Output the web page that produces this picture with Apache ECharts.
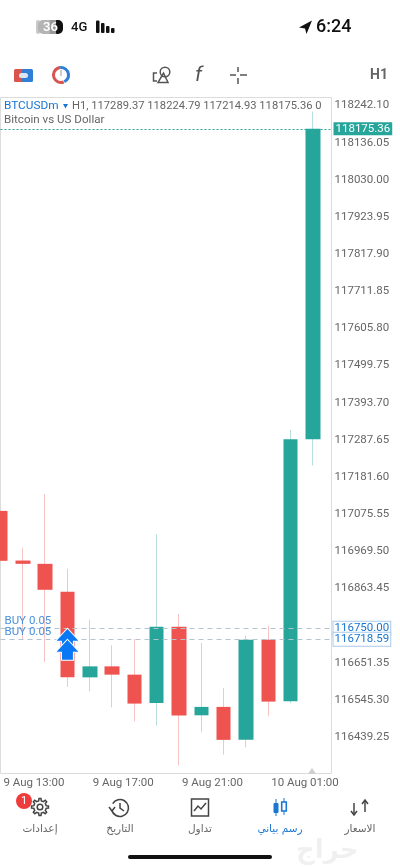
<!DOCTYPE html>
<html><head><meta charset="utf-8">
<script src="https://cdn.jsdelivr.net/npm/echarts@6/dist/echarts.min.js"></script>
<style>html,body{margin:0;padding:0;background:#fff}#c{width:400px;height:867px}</style></head>
<body><div id="c"></div>
<script>
// [bar index, open, close, low, high]
const barIndex = [0,1,2,3,4,5,6,7,8,9,10,11,12,13,14];
const opens  = [117085.1,116943.4,116934.0,116854.2,116610.0,116641.4,116617.7,116537.1,116754.5,116501.7,116525.7,116431.6,116717.5,116541.6,117289.37];
const closes = [116942.6,116934.0,116859.9,116610.0,116641.4,116617.7,116535.1,116754.5,116500.9,116525.7,116431.6,116717.5,116540.8,117289.4,118175.36];
const lows   = [116942.6,116717.5,116653.9,116582.7,116570.1,116524.5,116484.6,116472.4,116358.4,116453.3,116389.7,116410.5,116498.9,116537.1,117214.93];
const highs  = [117085.1,116979.6,117133.5,116919.8,116774.5,116701.2,116719.5,117018.7,116790.7,116708.1,116579.8,116728.9,116757.4,117315.9,118224.79];
const priceTicks = [118242.10,118136.05,118030.00,117923.95,117817.90,117711.85,117605.80,117499.75,117393.70,117287.65,117181.60,117075.55,116969.50,116863.45,116651.35,116545.30,116439.25];
const timeTickBars = [1,5,9,13];
const timeTickLabels = ['9 Aug 13:00','9 Aug 17:00','9 Aug 21:00','10 Aug 01:00'];
const lastPrice = 118175.36;
const buyPrices = [116750.00,116718.59];
const buyBar = 3;
const tabLabels = ['إعدادات','التاريخ','تداول','رسم بياني','الاسعار'];

const UP='#26a69a',DOWN='#ef5350',BLUE='#1976d2',GRAY='#666666',FONT='Roboto';
const wickData = barIndex.map((x,i)=>[x,opens[i],closes[i],lows[i],highs[i]]);
const bodyData = barIndex.map((x,i)=>[x,opens[i],closes[i],Math.min(opens[i],closes[i]),Math.max(opens[i],closes[i])]);

const ARROW='path://M12 0 L24 13 L18 13 L18 21 L6 21 L6 13 L0 13 Z';
const LABEL_SHIFT=0.87;
const labelPositions=timeTickBars.map(b=>b-LABEL_SHIFT);
function txt(t,x,y,size,fill,extra){return {type:'text',silent:true,x:x,y:y,z:20,style:Object.assign({text:t,fill:fill,font:size+'px '+FONT,textVerticalAlign:'middle'},extra||{})};}
function poly(points,style,closed){return {type:closed?'polygon':'polyline',silent:true,z:20,shape:{points:points},style:style};}
function rect(x,y,w,h,fill,r){return {type:'rect',silent:true,z:20,shape:{x:x,y:y,width:w,height:h,r:r||0},style:{fill:fill}};}
function ring(cx,cy,r,stroke,lw){return {type:'circle',silent:true,z:20,shape:{cx:cx,cy:cy,r:r},style:{fill:'none',stroke:stroke,lineWidth:lw}};}
function line(a,b,c,d,stroke,lw){return {type:'line',silent:true,z:20,shape:{x1:a,y1:b,x2:c,y2:d},style:{stroke:stroke,lineWidth:lw}};}
const st=(c,w)=>({fill:'none',stroke:c,lineWidth:w||1.5});
function gear(cx,cy,ro,ri,n){const p=[];for(let i=0;i<n;i++){const a=i*2*Math.PI/n,d=Math.PI/n;[[-.55,ri],[-.3,ro],[.3,ro],[.55,ri]].forEach(([o,r])=>p.push([cx+r*Math.cos(a+o*d),cy+r*Math.sin(a+o*d)]));}return p;}

const chrome=[
 // status bar
 rect(36,20,4,14,'#c9c9c9',2), rect(38,20,18,14,'#b4b4b4',5), rect(52,20,11,14,'#111',5), rect(50,20,6,14,'#9a9a9a',0),
 txt('36',43,27.5,13,'#fff',{font:'600 13px '+FONT}),
 txt('4G',71,27.5,13,'#111',{font:'500 13px '+FONT}),
 rect(96,20.5,3.5,12.5,'#111',1),rect(101,23,3.5,10,'#111',1),rect(106,26,3.5,7,'#111',1),rect(111,28,3.5,5,'#111',1),
 poly([[312,20.5],[299,27.5],[305,28.5],[306.5,34]],{fill:'#111'},true),
 txt('6:24',316,27.5,18,'#111',{font:'500 18px '+FONT}),
 // toolbar
 rect(14,69,11,13,'#d9534f',1.5),rect(22,69,11,13,'#2f7fd6',1.5),rect(19,73,9,5,'#dbe6f2',2.5),
 {type:'arc',silent:true,z:20,shape:{cx:61,cy:75,r:7.5,startAngle:1.2,endAngle:4.6},style:{fill:'none',stroke:'#d9534f',lineWidth:3}},
 {type:'arc',silent:true,z:20,shape:{cx:61,cy:75,r:7.5,startAngle:4.6,endAngle:7.4},style:{fill:'none',stroke:'#2f7fd6',lineWidth:3}},
 line(61,70,61,76,'#999',1),
 ring(165,72,4.8,'#555',1.5), poly([[163.5,73],[168,82.5],[158,82.5]],st('#555'),true), poly([[157,73],[153.5,73],[153.5,81],[157,81]],st('#555')),
 txt('f',195,75.5,21,'#555',{font:'italic 21px '+FONT}),
 line(230,75,236,75,'#555',1.5),line(240,75,247,75,'#555',1.5),line(238,67,238,72,'#555',1.5),line(238,78,238,84,'#555',1.5),
 txt('H1',370,75.5,14,'#666',{font:'700 14px '+FONT}),
 // legend
 txt('BTCUSDm',4,106,11.8,BLUE),
 poly([[63,104],[68,104],[65.5,108.5]],{fill:BLUE},true),
 txt('H1, 117289.37 118224.79 117214.93 118175.36 0',72,106,11.2,GRAY),
 txt('Bitcoin vs US Dollar',4,120,11.6,GRAY),
 // period marker
 poly([[312,768],[316,774],[308,774]],{fill:'#cfcfcf'},true),
 // tab bar
 poly(gear(40,807,8.5,6.3,8),st('#444',1.5),true), ring(40,807,2.8,'#444',1.5),
 {type:'circle',silent:true,z:21,shape:{cx:24,cy:801,r:8},style:{fill:'#ee3b3b'}},
 {type:'text',silent:true,z:22,x:24,y:801,style:{text:'1',fill:'#fff',font:'11px '+FONT,textAlign:'center',textVerticalAlign:'middle'}},
 {type:'arc',silent:true,z:20,shape:{cx:120,cy:808,r:8.5,startAngle:-2.6,endAngle:2.9},style:{fill:'none',stroke:'#444',lineWidth:1.6}},
 poly([[120,803],[120,808],[124,811]],st('#444')), poly([[109,807],[112,811],[115,807]],st('#444')),
 {type:'rect',silent:true,z:20,shape:{x:191.5,y:799,width:17,height:17},style:{fill:'none',stroke:'#444',lineWidth:1.5}},
 poly([[194,811],[198,806],[201,809],[206,803]],st('#444')),
 line(276,799,276,816,BLUE,1),line(284,798,284,815,BLUE,1),rect(273.5,803,5,10,BLUE,1),
 {type:'rect',silent:true,z:20,shape:{x:281.7,y:802,width:4.6,height:9},style:{fill:'#fff',stroke:BLUE,lineWidth:1.6}},
 poly([[354,803],[354,815]],st('#444')), poly([[351,811],[354,815],[357,811]],st('#444')),
 poly([[365,812],[365,800]],st('#444')), poly([[362,804],[365,800],[368,804]],st('#444')),
 ...[40,120,200,280,360].map((x,i)=>txt(tabLabels[i],x,829,10.5,i===3?BLUE:GRAY,{textAlign:'center',font:'10.5px "DejaVu Sans"'})),
 rect(128,855,144,4,'#111',2),
 txt('حراج',296,851,26,'#f0f0f0',{font:'700 26px "DejaVu Sans"'})
];

const chart=echarts.init(document.getElementById('c'),null,{renderer:'canvas'});
chart.setOption({
 animation:false,backgroundColor:'#fff',
 textStyle:{fontFamily:FONT},
 grid:{show:true,left:0.5,top:97.5,width:331,height:676,borderColor:'#dcdcdc',borderWidth:1,backgroundColor:'#fff',containLabel:false},
 xAxis:{type:'value',position:'bottom',min:0,max:14.83,
  axisLine:{show:false},axisTick:{show:false},splitLine:{show:false},
  axisLabel:{show:true,customValues:labelPositions,align:'left',color:GRAY,fontSize:11.5,margin:4,fontFamily:FONT,
   formatter:v=>timeTickLabels[labelPositions.findIndex(p=>Math.abs(p-v)<0.01)]}},
 yAxis:{type:'value',position:'right',min:116335.6,max:118264.9,
  axisLine:{show:false},axisTick:{show:false},splitLine:{show:false},
  axisLabel:{customValues:priceTicks,color:GRAY,fontSize:11.5,margin:3,fontFamily:FONT,formatter:v=>v.toFixed(2)}},
 series:[
  {type:'candlestick',name:'wicks',barWidth:1,data:wickData,encode:{x:0,y:[1,2,3,4]},
   itemStyle:{color:'#b9dfda',color0:'#f6c4c2',borderColor:'#b9dfda',borderColor0:'#f6c4c2',borderWidth:1},
   markLine:{silent:true,symbol:'none',animation:false,
    data:[
     {yAxis:lastPrice,lineStyle:{color:UP,type:[2,2],width:1},label:{formatter:lastPrice.toFixed(2),position:'end',distance:2,color:'#fff',backgroundColor:UP,padding:[1,2,0,2],fontSize:11.5,fontFamily:FONT}},
     {yAxis:buyPrices[0],lineStyle:{color:'#b4c4cf',type:[5,4],width:1},label:{formatter:buyPrices[0].toFixed(2),position:'end',distance:2,color:BLUE,backgroundColor:'#fff',borderColor:'#a9c9ea',borderWidth:1,padding:[1,1,0,1],fontSize:11.5,fontFamily:FONT}},
     {yAxis:buyPrices[1],lineStyle:{color:'#b4c4cf',type:[5,4],width:1},label:{formatter:buyPrices[1].toFixed(2),position:'end',distance:2,color:BLUE,backgroundColor:'#fff',borderColor:'#a9c9ea',borderWidth:1,padding:[1,1,0,1],fontSize:11.5,fontFamily:FONT}}
    ]}},
  {type:'candlestick',name:'bodies',barWidth:15,data:bodyData,encode:{x:0,y:[1,2,3,4]},
   itemStyle:{color:UP,color0:DOWN,borderColor:UP,borderColor0:DOWN,borderWidth:0},
   markLine:{silent:true,symbol:'none',animation:false,lineStyle:{color:'transparent',width:1},
    data:buyPrices.map(p=>({yAxis:p,label:{show:true,formatter:'BUY 0.05',position:'insideStartTop',distance:[4,1],color:'#4a90d9',fontSize:11.5,fontFamily:FONT}}))},
   markPoint:{silent:true,animation:false,symbol:ARROW,symbolSize:[24,21],symbolOffset:[0,'50%'],symbolKeepAspect:false,
    itemStyle:{color:'#0a78f5',borderColor:'#fff',borderWidth:1},label:{show:false},
    data:buyPrices.map(p=>({coord:[buyBar,p]}))}}
 ],
 graphic:{elements:chrome}
});
</script></body></html>
